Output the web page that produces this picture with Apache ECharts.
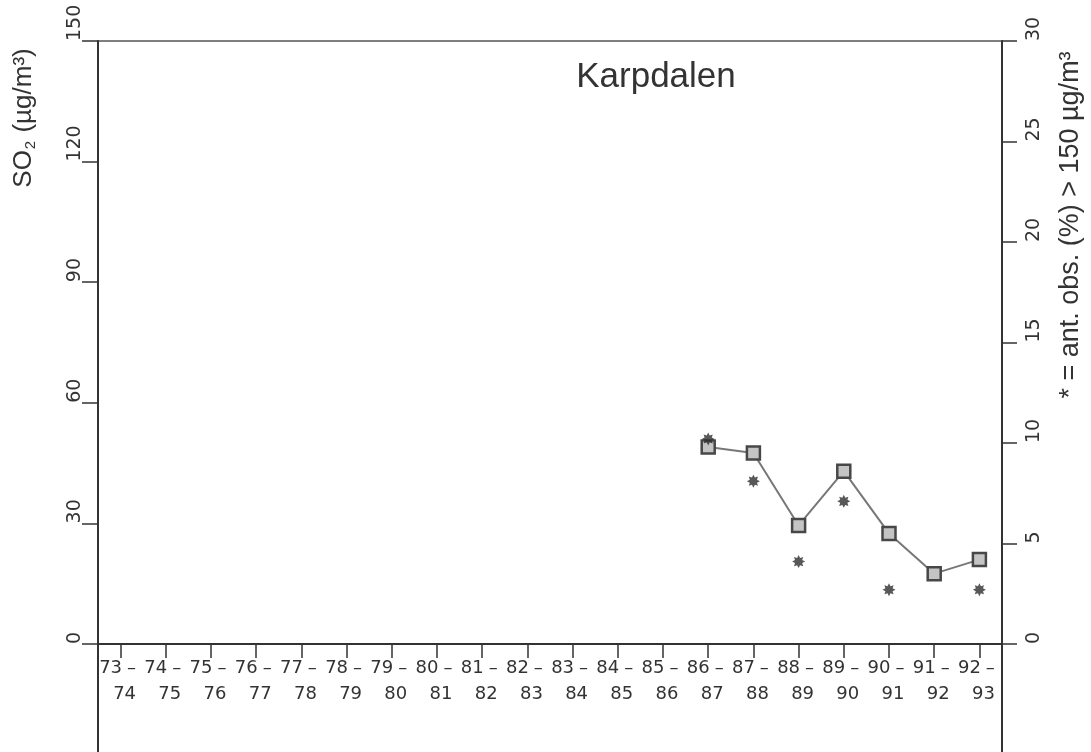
<!DOCTYPE html>
<html>
<head>
<meta charset="utf-8">
<title>Karpdalen</title>
<script src="https://cdn.jsdelivr.net/npm/echarts@6/dist/echarts.min.js"></script>
<style>
  html, body { margin: 0; padding: 0; background: #ffffff; }
  #chart { width: 1091px; height: 752px; }
</style>
</head>
<body>
<div id="chart"></div>
<script>
// Winter seasons on the horizontal axis
const seasons = ['73-74', '74-75', '75-76', '76-77', '77-78', '78-79', '79-80',
  '80-81', '81-82', '82-83', '83-84', '84-85', '85-86', '86-87', '87-88',
  '88-89', '89-90', '90-91', '91-92', '92-93'];

// Seasons with measurements at Karpdalen
const measuredSeasons = ['86-87', '87-88', '88-89', '89-90', '90-91', '91-92', '92-93'];
// Mean SO2 concentration (µg/m³), left axis
const so2Mean = [49, 47.5, 29.5, 43, 27.5, 17.5, 21];
// Share of observations above 150 µg/m³ (%), right axis
const exceedShare = [10.2, 8.1, 4.1, 7.1, 2.7, null, 2.7];

// Tick values of both value axes
const leftTicks = { min: 0, max: 150, interval: 30 };
const rightTicks = { min: 0, max: 30, interval: 5 };

const INK = '#333333';
const GRID = { left: 98, right: 89, top: 41, bottom: 108 };

// Eight-pointed asterisk marker
function asteriskPath() {
  const pts = [];
  for (let i = 0; i < 16; i++) {
    const a = i * Math.PI / 8 - Math.PI / 2;
    const r = i % 2 === 0 ? 10 : 6;
    pts.push((10 + r * Math.cos(a)).toFixed(2) + ' ' + (10 + r * Math.sin(a)).toFixed(2));
  }
  return 'path://M' + pts.join(' L') + ' Z';
}

const chart = echarts.init(document.getElementById('chart'), null, { renderer: 'canvas' });

const tickFont = 'DejaVu Sans';
const titleFont = 'Liberation Sans';
const xTickSize = 18;
const yTickSize = 19;

const option = {
  backgroundColor: '#ffffff',
  animation: false,
  grid: {
    left: GRID.left, right: GRID.right, top: GRID.top, bottom: GRID.bottom,
    show: true, borderColor: '#555555', borderWidth: 1.5, backgroundColor: 'transparent'
  },
  xAxis: {
    type: 'category',
    data: seasons,
    boundaryGap: true,
    axisLine: { show: true, lineStyle: { color: INK, width: 2 } },
    axisTick: { show: true, alignWithLabel: true, inside: false, length: 14,
      lineStyle: { color: INK, width: 1.5 } },
    axisLabel: {
      interval: 0,
      margin: 11,
      color: INK,
      fontFamily: tickFont,
      fontSize: xTickSize,
      lineHeight: 26,
      formatter: function (v) {
        const parts = v.split('-');
        return '{n|' + parts[0] + '}{d|–}\n{b|' + parts[1] + '}';
      },
      rich: {
        n: { fontFamily: tickFont, fontSize: xTickSize, lineHeight: 26 },
        d: { fontFamily: tickFont, fontSize: xTickSize, lineHeight: 26, padding: [0, 6, 0, 5] },
        b: { fontFamily: tickFont, fontSize: xTickSize, lineHeight: 26, padding: [0, 0, 0, 8] }
      }
    },
    splitLine: { show: false }
  },
  yAxis: [
    {
      type: 'value',
      position: 'left',
      min: leftTicks.min, max: leftTicks.max, interval: leftTicks.interval,
      axisLine: { show: true, lineStyle: { color: INK, width: 2 } },
      axisTick: { show: true, length: 16, lineStyle: { color: INK, width: 1.5 } },
      axisLabel: {
        rotate: 90, align: 'left', verticalAlign: 'middle', margin: 23,
        fontFamily: tickFont, fontSize: yTickSize, color: INK
      },
      splitLine: { show: false }
    },
    {
      type: 'value',
      position: 'right',
      min: rightTicks.min, max: rightTicks.max, interval: rightTicks.interval,
      axisLine: { show: true, lineStyle: { color: INK, width: 2 } },
      axisTick: { show: true, length: 15, lineStyle: { color: INK, width: 1.5 } },
      axisLabel: {
        rotate: 90, align: 'left', verticalAlign: 'middle', margin: 32,
        fontFamily: tickFont, fontSize: yTickSize, color: INK
      },
      splitLine: { show: false }
    }
  ],
  series: [
    {
      name: 'SO2',
      type: 'line',
      yAxisIndex: 0,
      data: measuredSeasons.map((s, i) => [s, so2Mean[i]]),
      symbol: 'rect',
      symbolSize: 13,
      lineStyle: { color: '#777777', width: 2 },
      itemStyle: { color: '#c4c4c4', borderColor: '#474747', borderWidth: 2.5 },
      z: 3
    },
    {
      name: 'ant. obs.',
      type: 'scatter',
      yAxisIndex: 1,
      data: measuredSeasons.map((s, i) => [s, exceedShare[i]]),
      symbol: asteriskPath(),
      symbolSize: 13,
      itemStyle: { color: '#2e2e2e' },
      z: 4
    }
  ]
};

chart.setOption(option);

// Frame lines below the plot, titles
const W = chart.getWidth(), H = chart.getHeight();
const xLeft = GRID.left, xRight = W - GRID.right, yBase = H - GRID.bottom;

chart.setOption({
  graphic: [
    { type: 'line', shape: { x1: xLeft, y1: yBase, x2: xLeft, y2: H }, style: { stroke: INK, lineWidth: 2 } },
    { type: 'line', shape: { x1: xRight, y1: yBase, x2: xRight, y2: H }, style: { stroke: INK, lineWidth: 2 } },
    {
      type: 'text', x: 656, y: 77,
      style: { text: 'Karpdalen', font: '35px "Liberation Sans"', fill: INK, align: 'center', verticalAlign: 'middle' }
    },
    {
      type: 'text', x: 24, y: 118, rotation: Math.PI / 2,
      style: {
        text: '{a|SO}{s|2}{a| (µg/m³)}',
        align: 'center', verticalAlign: 'middle', fill: INK,
        rich: {
          a: { fontFamily: titleFont, fontSize: 26, lineHeight: 28, fill: INK, color: INK },
          s: { fontFamily: titleFont, fontSize: 15, lineHeight: 14, padding: [22, 1, 0, 1], verticalAlign: 'bottom', fill: INK, color: INK }
        }
      }
    },
    {
      type: 'text', x: 1071, y: 225, rotation: Math.PI / 2,
      style: { text: '* = ant. obs. (%) > 150 µg/m³', font: '27px "Liberation Sans"', fill: INK, align: 'center', verticalAlign: 'middle' }
    }
  ]
});
</script>
</body>
</html>
